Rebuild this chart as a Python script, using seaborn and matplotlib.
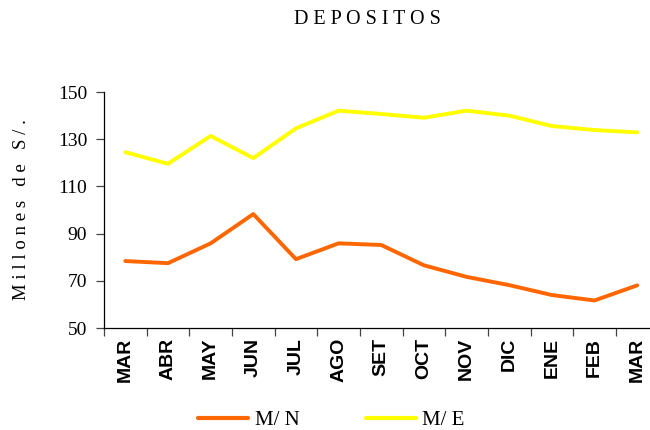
import numpy as np
import pandas as pd
import matplotlib
matplotlib.use("Agg")
import matplotlib.pyplot as plt
import seaborn as sns

#################################################
# Data
#################################################

months = ["MAR", "ABR", "MAY", "JUN", "JUL", "AGO", "SET",
          "OCT", "NOV", "DIC", "ENE", "FEB", "MAR"]
mn = [78.4, 77.5, 85.9, 98.3, 79.2, 85.9, 85.2,
      76.6, 71.7, 68.2, 64.0, 61.7, 68.1]
me = [124.5, 119.6, 131.4, 122.0, 134.6, 142.1, 140.7,
      139.1, 142.1, 140.0, 135.6, 133.9, 132.9]

pos = np.arange(len(months))
df = pd.DataFrame({"pos": np.concatenate([pos, pos]),
                   "valor": mn + me,
                   "serie": ["M/ N"] * len(mn) + ["M/ E"] * len(me)})

#################################################
# Plot
#################################################

sns.set_style("white")
plt.rcParams["text.color"] = "black"
plt.rcParams["axes.labelcolor"] = "black"
plt.rcParams["xtick.color"] = "black"
plt.rcParams["ytick.color"] = "black"
serif = ["Liberation Serif", "DejaVu Serif"]

fig = plt.figure(figsize=(6.5, 4.3), dpi=100)
ax = fig.add_axes([0.16, 0.237, 0.84, 0.549])

sns.lineplot(data=df, x="pos", y="valor", hue="serie",
             palette={"M/ N": "#FF6600", "M/ E": "#FFFF00"},
             linewidth=2.8, ax=ax, legend=False)

ax.set_xlim(-0.5, 12.3)
ax.set_ylim(50, 150)
ax.set_yticks([50, 70, 90, 110, 130, 150])
ax.set_xticks(pos)
ax.set_xticklabels(months, rotation=90, fontfamily="Liberation Sans",
                   fontweight="bold", fontsize=14)
ax.set_xticks(np.arange(-0.5, 12, 1), minor=True)
ax.tick_params(axis="x", which="major", bottom=False, length=0, pad=7)
ax.tick_params(axis="x", which="minor", bottom=True, length=6, width=0.9,
               color="#444444", direction="out")
ax.tick_params(axis="y", left=True, length=6, width=0.9, color="#444444",
               direction="out", pad=6)
for lab in ax.get_yticklabels():
    lab.set_fontfamily(serif)
    lab.set_fontsize(14)

for s in ["top", "right"]:
    ax.spines[s].set_visible(False)
for s in ["left", "bottom"]:
    ax.spines[s].set_color("black")
    ax.spines[s].set_linewidth(0.9)

ax.set_xlabel("")
ax.set_ylabel("M i l l o n e s   d e   S / .", fontfamily=serif,
              fontsize=13.5, labelpad=20)

fig.text(0.565, 0.955, "D E P O S I T O S", ha="center", va="center",
         fontfamily=serif, fontsize=14.5)

handles = [plt.Line2D([], [], color="#FF6600", lw=3),
           plt.Line2D([], [], color="#FFFF00", lw=3)]
fig.legend(handles, ["M/ N", "M/ E"], loc="center", bbox_to_anchor=(0.51, 0.022),
           ncol=2, frameon=False, handlelength=2.4, columnspacing=3.2,
           handletextpad=0.3, prop={"family": serif, "size": 15})

plt.savefig("out.png", dpi=100)
